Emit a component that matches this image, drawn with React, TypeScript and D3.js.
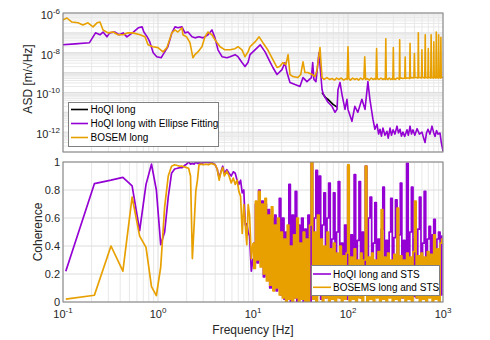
import * as d3 from 'd3'

// ---- data ----

// ASD spectra: [frequency Hz, ASD m/sqrt(Hz)]
const asdHoqiLong: [number, number][] = [
  [53.3, 1e-10], [57.9, 5.6e-11], [61.6, 4.5e-11], [69.6, 2.5e-11], [76.6, 1.8e-11],
]

const asdHoqiEllipse: [number, number][] = [
  [0.1, 2.5e-8], [0.134, 2.8e-8], [0.19, 3.2e-8], [0.22, 1e-7], [0.245, 8e-8], [0.264, 1.1e-7],
  [0.29, 6.3e-8], [0.31, 1e-7], [0.35, 1.1e-7], [0.39, 8e-8], [0.43, 1e-7], [0.47, 6.3e-8],
  [0.55, 1.1e-7], [0.62, 1.8e-7], [0.68, 2e-7], [0.71, 1.1e-7], [0.77, 6.3e-8], [0.82, 3.5e-8],
  [0.89, 1e-8], [0.97, 6.3e-9], [1.08, 5.6e-9], [1.13, 8e-9], [1.27, 2e-8], [1.4, 1e-7],
  [1.51, 2e-7], [1.62, 1.8e-7], [1.79, 2e-7], [1.92, 1e-7], [2.07, 1.1e-7], [2.28, 6.3e-8],
  [2.45, 5.6e-8], [2.7, 6.3e-8], [2.98, 5.6e-8], [3.36, 8e-8], [3.7, 1.4e-7], [3.98, 5.6e-8],
  [4.28, 1.4e-8], [4.72, 6.3e-9], [5.33, 5.6e-9], [5.73, 6.3e-9], [6.47, 8e-9], [6.95, 6.3e-9],
  [7.66, 3.2e-9], [8.24, 2e-9], [8.86, 3.2e-9], [9.3, 8e-9], [10.5, 1.4e-8], [11.9, 2.5e-8],
  [13.4, 1.1e-8], [15.1, 3.5e-9], [16.2, 1.8e-9], [17.9, 8e-10], [20.2, 1.4e-9], [21.7, 3.2e-9],
  [22.8, 1e-9], [24.5, 3.2e-10], [27.7, 2.5e-10], [31.2, 2e-10], [33.6, 5.6e-10], [37, 3.5e-10],
  [41.2, 5.6e-10], [42.5, 3.2e-9], [43.8, 4.5e-10], [46, 3.5e-10], [49.5, 1e-8], [53.3, 1.4e-10],
  [55, 8e-11], [61.6, 3.2e-11], [67.9, 2e-11], [73, 1e-11], [76.6, 1.4e-11], [78.5, 1.4e-10],
  [82.4, 3.2e-10], [86.4, 8e-11], [93, 1.4e-11], [97.5, 4.5e-11], [100, 1.4e-11], [110, 3.5e-12],
  [118, 2e-11], [127, 1e-11], [140, 4.5e-11], [151, 1.4e-11], [162, 3.5e-10], [170, 4.5e-11],
  [183, 4.5e-12], [192, 1.4e-12], [202, 2.5e-12], [210, 8e-13], [217, 1.4e-12], [225, 6.3e-13],
  [233, 1.6e-12], [245, 7e-13], [257, 1.1e-12], [265, 5e-13], [277, 1.6e-12], [287, 7e-13],
  [298, 1.3e-12], [312, 8e-13], [328, 2e-12], [340, 9e-13], [353, 1.4e-12], [365, 6.3e-13],
  [379, 1e-12], [395, 6e-13], [418, 1.3e-12], [432, 7e-13], [450, 2e-12], [466, 8e-13],
  [483, 1.3e-12], [505, 7e-13], [533, 1.5e-12], [565, 8e-13], [601, 1e-12], [625, 5e-13],
  [647, 3e-13], [670, 9e-13], [695, 1.4e-12], [730, 8e-13], [766, 2e-12], [795, 1e-12],
  [824, 6e-13], [855, 1.2e-12], [886, 8e-13], [930, 9e-13], [960, 3e-13], [976, 2e-13],
  [1000, 1.1e-13],
]

const asdBosemLong: [number, number][] = [
  [0.1, 4.5e-7], [0.11, 5.6e-7], [0.124, 3.5e-7], [0.144, 3.2e-7], [0.162, 2.5e-7], [0.183, 3.2e-7],
  [0.207, 2e-7], [0.228, 3.2e-7], [0.245, 3.5e-7], [0.264, 1.4e-7], [0.298, 1e-7], [0.336, 1.1e-7],
  [0.379, 8e-8], [0.428, 8e-8], [0.483, 1e-7], [0.546, 1e-7], [0.647, 8e-8], [0.73, 6.3e-8],
  [0.785, 2.5e-8], [0.886, 2e-8], [1.0, 1.8e-8], [1.13, 1.1e-8], [1.24, 1.8e-8], [1.4, 1e-7],
  [1.51, 1.4e-7], [1.62, 1.1e-7], [1.79, 1.8e-7], [1.83, 8e-8], [2.0, 6.3e-8], [2.17, 3.2e-8],
  [2.33, 5.6e-9], [2.45, 8e-9], [2.63, 1.1e-8], [2.9, 2e-8], [3.12, 6.3e-8], [3.36, 1.1e-7],
  [3.7, 8e-8], [3.98, 4.5e-8], [4.5, 2e-8], [5.07, 1.4e-8], [5.73, 1.4e-8], [6.47, 1.6e-8],
  [6.95, 2e-8], [7.66, 1.4e-8], [8.24, 6.3e-9], [8.86, 1.1e-8], [9.3, 2e-8], [10.5, 3.5e-8],
  [11.6, 6.3e-8], [12.7, 3.2e-8], [14.3, 1.4e-8], [16.2, 4.5e-9], [17.9, 1.8e-9], [19.1, 2e-9],
  [20.7, 3.2e-9], [22.2, 2.5e-9], [23.4, 8e-9], [24.5, 8e-10], [26.3, 6.3e-10], [29.6, 5.6e-10],
  [31.8, 8e-10], [33.6, 3.5e-9], [35.2, 1e-9], [37.8, 1e-9], [41.8, 8e-10], [45, 6.3e-10],
  [47.2, 1.4e-9], [50.7, 1.8e-8], [53.3, 5.6e-10], [56, 4.5e-10], [60, 5.6e-10], [64, 4.5e-10],
  [68, 5e-10], [72, 4.2e-10], [76, 5.3e-10], [80, 4.5e-10], [85, 5.3e-10], [90, 4.2e-10],
  [95, 5e-10], [98, 4.5e-10], [100, 2e-8], [102, 5e-10], [106, 4.2e-10], [112, 5.3e-10],
  [118, 4.5e-10], [124, 5e-10], [130, 4.2e-10], [136, 5.3e-10], [142, 4.5e-10], [147, 5e-10],
  [150, 6.3e-9], [153, 4.5e-10], [160, 5e-10], [168, 4.2e-10], [176, 5.3e-10], [184, 4.5e-10],
  [192, 5e-10], [197, 4.5e-10], [200, 1.6e-8], [203, 5e-10], [212, 4.5e-10], [222, 5.3e-10],
  [232, 4.5e-10], [240, 5e-10], [247, 4.5e-10], [250, 5e-8], [253, 5e-10], [262, 4.5e-10],
  [272, 5.3e-10], [282, 4.5e-10], [291, 5e-10], [297, 4.5e-10], [300, 1.8e-8], [303, 5e-10],
  [315, 4.5e-10], [328, 5.3e-10], [340, 5e-10], [347, 4.5e-10], [350, 4.5e-8], [353, 5e-10],
  [365, 5.3e-10], [378, 5e-10], [396, 5.3e-10], [400, 6e-9], [404, 5e-10], [420, 5.3e-10],
  [440, 5.3e-10], [446, 5e-10], [450, 3e-8], [454, 5.3e-10], [470, 5.6e-10], [494, 5.3e-10],
  [500, 9e-9], [506, 5.6e-10], [525, 5.6e-10], [545, 5.3e-10], [550, 1e-7], [556, 5.6e-10],
  [575, 5.6e-10], [594, 5.3e-10], [600, 1.4e-8], [606, 5.6e-10], [625, 5.6e-10], [643, 5.3e-10],
  [650, 8e-8], [657, 5.6e-10], [675, 5.6e-10], [693, 5.3e-10], [700, 1.6e-8], [707, 5.6e-10],
  [725, 5.6e-10], [743, 5.3e-10], [750, 8e-8], [757, 5.6e-10], [775, 5.6e-10], [792, 5.3e-10],
  [800, 3.5e-8], [808, 5.6e-10], [825, 5.6e-10], [842, 5.3e-10], [850, 1.1e-7], [858, 5.6e-10],
  [875, 5.6e-10], [892, 5.3e-10], [900, 8e-8], [908, 5.6e-10], [925, 5.6e-10], [942, 5.3e-10],
  [950, 6e-8], [958, 5.6e-10], [980, 5.6e-10], [1000, 5.6e-10],
]

// coherence, both series on the same frequency points
const cohFreq = [
  0.107, 0.214, 0.32, 0.427, 0.534, 0.641, 0.748, 0.854, 0.961, 1.068,
  1.175, 1.282, 1.389, 1.496, 1.6, 1.7, 1.8, 1.9, 2.0, 2.1,
  2.2, 2.3, 2.4, 2.5, 2.6, 2.7, 2.85, 3.0, 3.2, 3.4,
  3.6, 3.8, 4.0, 4.2, 4.4, 4.6, 4.8, 5.0, 5.3, 5.6,
  5.9, 6.2, 6.5, 6.8, 7.1, 7.4, 7.7, 8.0, 8.3, 8.6,
  8.9, 9.2, 9.6,
  10, 10.4, 10.8, 11.2, 11.7, 12.1, 12.6, 13.1, 13.6, 14.1,
  14.7, 15.3, 15.9, 16.5, 17.2, 17.8, 18.5, 19.3, 20, 20.8,
  21.6, 22.5, 23.4, 24.3, 25.2, 26.2, 27.3, 28.3, 29.5, 30.6,
  31.8, 33.1, 34.4, 35.7, 37.1, 38.6, 40.1, 41.7, 43.3, 45,
  46.8, 48.7, 50.6, 52.6, 54.6, 56.8, 59, 61.3, 63.8, 66.3,
  68.9, 71.6, 74.4, 77.3, 80.4, 83.5, 86.8, 90.3, 93.8, 97.5,
  101, 105, 109, 114, 118, 123, 128, 133, 138, 143,
  149, 155, 161, 167, 174, 181, 188, 195, 203, 211,
  219, 228, 237, 246, 256, 266, 276, 287, 298, 310,
  322, 335, 348, 362, 376, 391, 406, 422, 439, 456,
  474, 493, 512, 532, 553, 575, 598, 621, 646, 671,
  698, 725, 754, 783, 814, 846, 880, 914, 950, 988,
]

const cohHoqi = [
  0.22, 0.845, 0.87, 0.89, 0.83, 0.51, 0.84, 0.985, 0.8, 0.41,
  0.5, 0.75, 0.92, 0.95, 0.955, 0.96, 0.96, 0.975, 0.985, 1.0,
  0.985, 0.99, 0.985, 1.0, 0.99, 0.995, 0.99, 0.995, 1.0, 0.995,
  1.0, 0.99, 0.98, 0.95, 0.885, 0.93, 0.97, 0.92, 0.945, 0.92,
  0.9, 0.93, 0.92, 0.87, 0.84, 0.87, 0.78, 0.8, 0.55, 0.56,
  0.5, 0.47, 0.22,
  0.31, 0.42, 0.7, 0.28, 0.8, 0.3, 0.72, 0.18, 0.7, 0.2,
  0.66, 0.1, 0.6, 0.12, 0.62, 0.08, 0.55, 0.74, 0.05, 0.6,
  0.02, 0.5, 0.04, 0.84, 0.0, 0.62, 0.03, 0.79, 0.0, 0.55,
  0.02, 0.6, 0.0, 0.52, 0.03, 0.62, 0.0, 0.99, 0.02, 0.6,
  0.94, 0.05, 0.9, 0.02, 0.55, 0.78, 0.03, 0.6, 0.85, 0.02,
  0.45, 0.78, 0.05, 0.5, 0.86, 0.03, 0.42, 0.05, 0.55, 0.02,
  0.97, 0.05, 0.48, 0.02, 0.91, 0.04, 0.44, 0.86, 0.03, 0.5,
  0.05, 0.97, 0.02, 0.6, 0.75, 0.04, 0.42, 0.71, 0.05, 0.45,
  0.03, 0.52, 0.82, 0.04, 0.44, 0.05, 0.5, 0.74, 0.03, 0.46,
  0.73, 0.05, 0.48, 0.85, 0.03, 0.44, 0.04, 0.99, 0.05, 0.5,
  0.82, 0.04, 0.45, 0.03, 0.52, 0.75, 0.05, 0.42, 0.79, 0.04,
  0.45, 0.54, 0.05, 0.48, 0.59, 0.04, 0.45, 0.5, 0.05, 0.47,
]

const cohBosem = [
  0.02, 0.048, 0.4, 0.22, 0.75, 0.47, 0.39, 0.11, 0.045, 0.25,
  0.68, 0.9, 0.97, 0.98, 0.975, 0.97, 0.97, 0.965, 0.96, 0.955,
  0.9, 0.31, 0.55, 0.79, 0.87, 0.98, 0.985, 0.98, 0.985, 0.98,
  0.99, 0.985, 0.98, 0.95, 0.87, 0.93, 0.96, 0.9, 0.935, 0.9,
  0.85, 0.885, 0.84, 0.87, 0.79, 0.755, 0.49, 0.695, 0.55, 0.41,
  0.695, 0.62, 0.31,
  0.42, 0.24, 0.72, 0.3, 0.79, 0.25, 0.7, 0.2, 0.74, 0.15,
  0.62, 0.12, 0.68, 0.08, 0.55, 0.1, 0.6, 0.05, 0.5, 0.03,
  0.45, 0.0, 0.55, 0.02, 0.4, 0.0, 0.48, 0.03, 0.6, 0.0,
  0.42, 0.02, 0.5, 0.0, 0.45, 0.0, 0.55, 1.0, 0.02, 0.5,
  0.0, 0.62, 0.05, 0.45, 0.0, 0.4, 0.03, 0.5, 0.0, 0.38,
  0.02, 0.42, 0.0, 0.35, 0.03, 0.4, 0.0, 0.33, 0.02, 0.35,
  0.98, 0.0, 0.32, 0.02, 0.38, 0.0, 0.3, 0.03, 0.35, 0.0,
  0.3, 0.97, 0.0, 0.32, 0.02, 0.35, 0.0, 0.3, 0.03, 0.36,
  0.0, 0.66, 0.02, 0.32, 0.0, 0.35, 0.03, 0.3, 0.0, 0.34,
  0.02, 0.67, 0.0, 0.33, 0.03, 0.3, 0.0, 0.35, 0.02, 0.32,
  0.0, 0.36, 0.72, 0.03, 0.33, 0.0, 0.35, 0.02, 0.32, 0.0,
  0.36, 0.03, 0.34, 0.0, 0.48, 0.02, 0.38, 0.0, 0.42, 0.45,
]

const xTickExps = [-1, 0, 1, 2, 3]
const asdTickExps = [-12, -10, -8, -6]
const cohTicks = [0, 0.2, 0.4, 0.6, 0.8, 1]

const topLegend = ['HoQI long', 'HoQI long with Ellipse Fitting', 'BOSEM long']
const bottomLegend = ['HoQI long and STS', 'BOSEMS long and STS']

// ---- layout ----
const W = 490
const H = 340
const L = 63
const R = 443
const T1 = 13
const B1 = 152
const T2 = 162
const B2 = 302

const PURPLE = '#9400D3'
const ORANGE = '#E8A000'
const FONT = 'Liberation Sans, Arial, Helvetica, sans-serif'
const GRID_MAJOR = '#dcdcdc'
const GRID_MINOR = '#e8e8e8'
const AXIS = '#808080'
const TEXT = '#262626'

const x = d3.scaleLog().domain([0.1, 1000]).range([L, R])
const yAsd = d3.scaleLog().domain([1e-13, 1e-6]).range([B1, T1])
const yCoh = d3.scaleLinear().domain([0, 1]).range([B2, T2])

const asdLine = d3
  .line<[number, number]>()
  .x((d) => x(d[0]))
  .y((d) => yAsd(d[1]))

// above 10 Hz the frequency bins are far denser than a pixel, so the
// coherence there is drawn as a step trace (vertical strokes per point)
const DENSE_FROM = cohFreq.indexOf(10)

const cohLineLow = d3
  .line<number>()
  .x((_, i) => x(cohFreq[i]))
  .y((d) => yCoh(d))

const cohLineHigh = d3
  .line<number>()
  .x((_, i) => x(cohFreq[i + DENSE_FROM]))
  .y((d) => yCoh(d))
  .curve(d3.curveStep)

function cohPath(vals: number[]) {
  return (
    (cohLineLow(vals.slice(0, DENSE_FROM + 1)) ?? '') +
    (cohLineHigh(vals.slice(DENSE_FROM)) ?? '')
  )
}

function minorTicks(lo: number, hi: number) {
  const out: number[] = []
  for (let e = lo; e < hi; e++) {
    for (let k = 2; k <= 9; k++) out.push(k * Math.pow(10, e))
  }
  return out
}

const xMinor = minorTicks(-1, 3)
const xMajor = xTickExps.map((e) => Math.pow(10, e))
const asdMinor = minorTicks(-13, -6)
const asdMajor = d3.range(-13, -5).map((e) => Math.pow(10, e))

function Pow10({ exp, ...rest }: { exp: number; [k: string]: any }) {
  return (
    <text {...rest}>
      10
      <tspan dy={-5} fontSize={8}>
        {exp}
      </tspan>
    </text>
  )
}

export default function App() {
  return (
    <svg
      width={W}
      height={H}
      style={{ position: 'absolute', left: 0, top: 0, background: '#fff' }}
      fontFamily={FONT}
    >
      <defs>
        <clipPath id="clipTop">
          <rect x={L} y={T1} width={R - L} height={B1 - T1} />
        </clipPath>
        <clipPath id="clipBot">
          <rect x={L} y={T2} width={R - L} height={B2 - T2} />
        </clipPath>
      </defs>
      <rect x={0} y={0} width={W} height={H} fill="#fff" />

      {/* top panel */}
      <g strokeWidth={1} fill="none">
        {xMinor.map((f) => (
          <line key={'txm' + f} x1={x(f)} x2={x(f)} y1={T1} y2={B1} stroke={GRID_MINOR} />
        ))}
        {asdMinor.map((v) => (
          <line key={'tym' + v} x1={L} x2={R} y1={yAsd(v)} y2={yAsd(v)} stroke={GRID_MINOR} />
        ))}
        {xMajor.map((f) => (
          <line key={'txM' + f} x1={x(f)} x2={x(f)} y1={T1} y2={B1} stroke={GRID_MAJOR} />
        ))}
        {asdMajor.map((v) => (
          <line key={'tyM' + v} x1={L} x2={R} y1={yAsd(v)} y2={yAsd(v)} stroke={GRID_MAJOR} />
        ))}
      </g>
      <g clipPath="url(#clipTop)" fill="none" strokeWidth={1.6} strokeLinejoin="round">
        <path d={asdLine(asdHoqiLong) ?? ''} stroke="#000" />
        <path d={asdLine(asdHoqiEllipse) ?? ''} stroke={PURPLE} />
        <path d={asdLine(asdBosemLong) ?? ''} stroke={ORANGE} />
      </g>
      <rect x={L} y={T1} width={R - L} height={B1 - T1} fill="none" stroke={AXIS} strokeWidth={1} />
      {asdTickExps.map((e) => (
        <Pow10
          key={'at' + e}
          exp={e}
          x={60}
          y={yAsd(Math.pow(10, e)) + 6}
          textAnchor="end"
          fontSize={11}
          fill={TEXT}
        />
      ))}
      <text
        transform={`translate(32, 79) rotate(-90)`}
        textAnchor="middle"
        fontSize={12}
        fill={TEXT}
      >
        ASD [m/√Hz]
      </text>

      {/* top legend */}
      <g>
        <rect x={68.5} y={102.5} width={150} height={44} fill="#fff" stroke={AXIS} strokeWidth={1} />
        {topLegend.map((label, i) => {
          const yy = 109.5 + i * 14
          const c = ['#000', PURPLE, ORANGE][i]
          return (
            <g key={label}>
              <line x1={71} x2={88} y1={yy} y2={yy} stroke={c} strokeWidth={1.6} />
              <text x={90.5} y={yy + 3.6} fontSize={10} fill="#000">
                {label}
              </text>
            </g>
          )
        })}
      </g>

      {/* bottom panel */}
      <g strokeWidth={1} fill="none">
        {xMinor.map((f) => (
          <line key={'bxm' + f} x1={x(f)} x2={x(f)} y1={T2} y2={B2} stroke={GRID_MINOR} />
        ))}
        {xMajor.map((f) => (
          <line key={'bxM' + f} x1={x(f)} x2={x(f)} y1={T2} y2={B2} stroke={GRID_MAJOR} />
        ))}
        {cohTicks.map((v) => (
          <line key={'by' + v} x1={L} x2={R} y1={yCoh(v)} y2={yCoh(v)} stroke={GRID_MAJOR} />
        ))}
      </g>
      <g clipPath="url(#clipBot)" fill="none" strokeWidth={1.7} strokeLinejoin="round">
        <path d={cohPath(cohHoqi)} stroke={PURPLE} />
        <path d={cohPath(cohBosem)} stroke={ORANGE} />
      </g>
      <rect x={L} y={T2} width={R - L} height={B2 - T2} fill="none" stroke={AXIS} strokeWidth={1} />
      {cohTicks.map((v) => (
        <text key={'ct' + v} x={60} y={yCoh(v) + 4} textAnchor="end" fontSize={11} fill={TEXT}>
          {v === 0 || v === 1 ? String(v) : v.toFixed(1)}
        </text>
      ))}
      {xTickExps.map((e) => (
        <Pow10
          key={'xt' + e}
          exp={e}
          x={x(Math.pow(10, e))}
          y={B2 + 16}
          textAnchor="middle"
          fontSize={11}
          fill={TEXT}
        />
      ))}
      <text
        transform={`translate(42, ${(T2 + B2) / 2}) rotate(-90)`}
        textAnchor="middle"
        fontSize={12}
        fill={TEXT}
      >
        Coherence
      </text>
      <text x={(L + R) / 2} y={334} textAnchor="middle" fontSize={12} fill={TEXT}>
        Frequency [Hz]
      </text>

      {/* bottom legend */}
      <g>
        <rect x={311.5} y={265.5} width={128} height={30} fill="#fff" stroke={AXIS} strokeWidth={1} />
        {bottomLegend.map((label, i) => {
          const yy = 274 + i * 13.3
          const c = [PURPLE, ORANGE][i]
          return (
            <g key={label}>
              <line x1={313} x2={331} y1={yy} y2={yy} stroke={c} strokeWidth={1.6} />
              <text x={333} y={yy + 3.8} fontSize={10} fill="#000">
                {label}
              </text>
            </g>
          )
        })}
      </g>
    </svg>
  )
}
